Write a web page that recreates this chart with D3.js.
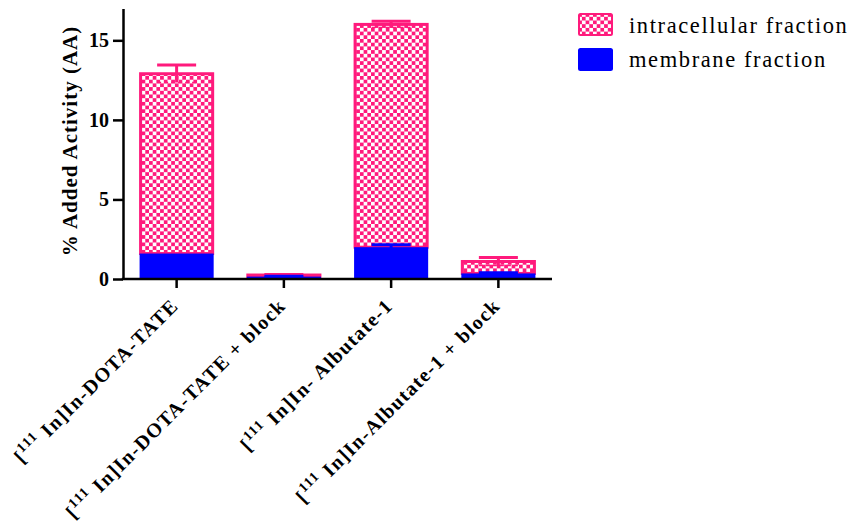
<!DOCTYPE html>
<html><head><meta charset="utf-8">
<script src="https://cdn.jsdelivr.net/npm/d3@7"></script>
<style>body{margin:0;background:#fff}</style>
</head><body><svg id="c" width="858" height="524"></svg>
<script>
const categories = ["[111In]In-DOTA-TATE", "[111In]In-DOTA-TATE + block", "[111In]In- Albutate-1", "[111In]In-Albutate-1 + block"];
const membrane = [1.6, 0.15, 2.0, 0.35];
const membraneErr = [0, 0.02, 0.15, 0.05];
const intracellular = [11.3, 0.1, 14.0, 0.75];
const intracellularErr = [0.55, 0.03, 0.2, 0.25];
const yTicks = [0, 5, 10, 15];
const seriesNames = ["intracellular fraction", "membrane fraction"];

const PINK = "#ff1a7c", BLUE = "#0000ff";
const FONT = "'Liberation Serif', 'Times New Roman', serif";
const svg = d3.select("#c");

const defs = svg.append("defs");
const P = 7.4;
const pat = defs.append("pattern").attr("id", "chk").attr("width", P).attr("height", P)
  .attr("patternUnits", "userSpaceOnUse").attr("x", 1).attr("y", 2);
pat.append("rect").attr("width", P).attr("height", P).attr("fill", PINK);
pat.append("rect").attr("x", 0).attr("y", 0).attr("width", P / 2).attr("height", P / 2).attr("fill", "#fff");
pat.append("rect").attr("x", P / 2).attr("y", P / 2).attr("width", P / 2).attr("height", P / 2).attr("fill", "#fff");

const x = d3.scaleBand().domain(categories).range([123, 552]).paddingInner(0.3).paddingOuter(0.15);
const y = d3.scaleLinear().domain([0, 17]).range([279, 8.5]);
const bw = x.bandwidth();

const data = categories.map((c, i) => ({
  c, m: membrane[i], mE: membraneErr[i], t: membrane[i] + intracellular[i], tE: intracellularErr[i]
}));

// intracellular (stacked on top)
svg.append("g").selectAll("rect").data(data).join("rect")
  .attr("x", d => x(d.c) + 1.5).attr("width", bw - 3)
  .attr("y", d => y(d.t)).attr("height", d => y(d.m) - y(d.t))
  .attr("fill", "url(#chk)").attr("stroke", PINK).attr("stroke-width", 3);

// membrane
svg.append("g").selectAll("rect").data(data).join("rect")
  .attr("x", d => x(d.c) + 0.5).attr("width", bw - 1)
  .attr("y", d => y(d.m)).attr("height", d => y(0) - y(d.m))
  .attr("fill", BLUE);

// error bars
function errBars(get, getE, color) {
  const g = svg.append("g").attr("stroke", color).attr("stroke-width", 3).attr("fill", "none");
  data.forEach(d => {
    const cx = x(d.c) + bw / 2, v = get(d), e = getE(d), hw = 19.5;
    if (!e) return;
    g.append("line").attr("x1", cx).attr("x2", cx).attr("y1", y(v - e)).attr("y2", y(v + e));
    g.append("line").attr("x1", cx - hw).attr("x2", cx + hw).attr("y1", y(v + e)).attr("y2", y(v + e));
    g.append("line").attr("x1", cx - hw).attr("x2", cx + hw).attr("y1", y(v - e)).attr("y2", y(v - e))
      .attr("stroke-dasharray", color === PINK ? "4,3" : null).attr("stroke-width", 1.5);
  });
}
errBars(d => d.t, d => d.tE, PINK);
errBars(d => d.m, d => d.mE, BLUE);

// y axis
const ya = svg.append("g").attr("transform", "translate(123,0)")
  .call(d3.axisLeft(y).tickValues(yTicks).tickSize(10).tickSizeOuter(0).tickPadding(4));
ya.select(".domain").attr("stroke-width", 2.5);
ya.selectAll(".tick line").attr("stroke-width", 2.5);
ya.selectAll(".tick text").attr("font-family", FONT).attr("font-weight", "bold")
  .attr("font-size", 20).attr("fill", "#000");

// x axis
const xa = svg.append("g").attr("transform", "translate(0,279)")
  .call(d3.axisBottom(x).tickSize(9).tickSizeOuter(0));
xa.select(".domain").attr("stroke-width", 2.5).attr("d", "M121.75,0H552");
xa.selectAll(".tick line").attr("stroke-width", 2.5);
xa.selectAll(".tick text").remove();
xa.selectAll(".tick").each(function (c) {
  const t = d3.select(this).append("text")
    .attr("transform", "translate(3,28) rotate(-45)")
    .attr("text-anchor", "end").attr("fill", "#000").attr("letter-spacing", 1.3)
    .attr("font-family", FONT).attr("font-weight", "bold").attr("font-size", 20);
  const m = c.match(/^\[(\d+)(.*)$/);
  t.append("tspan").text("[");
  t.append("tspan").attr("font-size", 14).attr("dy", -8).text(m[1]);
  t.append("tspan").attr("dy", 8).text(" " + m[2]);
});

// y title
svg.append("text").attr("transform", "translate(77,141) rotate(-90)")
  .attr("text-anchor", "middle").attr("font-family", FONT).attr("font-weight", "bold")
  .attr("letter-spacing", 1).attr("font-size", 21).attr("fill", "#000").text("% Added Activity (AA)");

// legend
const lg = svg.append("g");
const fills = ["url(#chk)", BLUE], strokes = [PINK, BLUE];
seriesNames.forEach((n, i) => {
  lg.append("rect").attr("x", 579).attr("y", 14 + i * 35).attr("width", 33).attr("height", 21)
    .attr("rx", 1.5).attr("fill", fills[i]).attr("stroke", strokes[i]).attr("stroke-width", 2);
  lg.append("text").attr("x", 629).attr("y", 33 + i * 34).attr("font-family", FONT)
    .attr("letter-spacing", 1.6).attr("font-size", 22.5).attr("fill", "#000").text(n);
});
</script></body></html>
